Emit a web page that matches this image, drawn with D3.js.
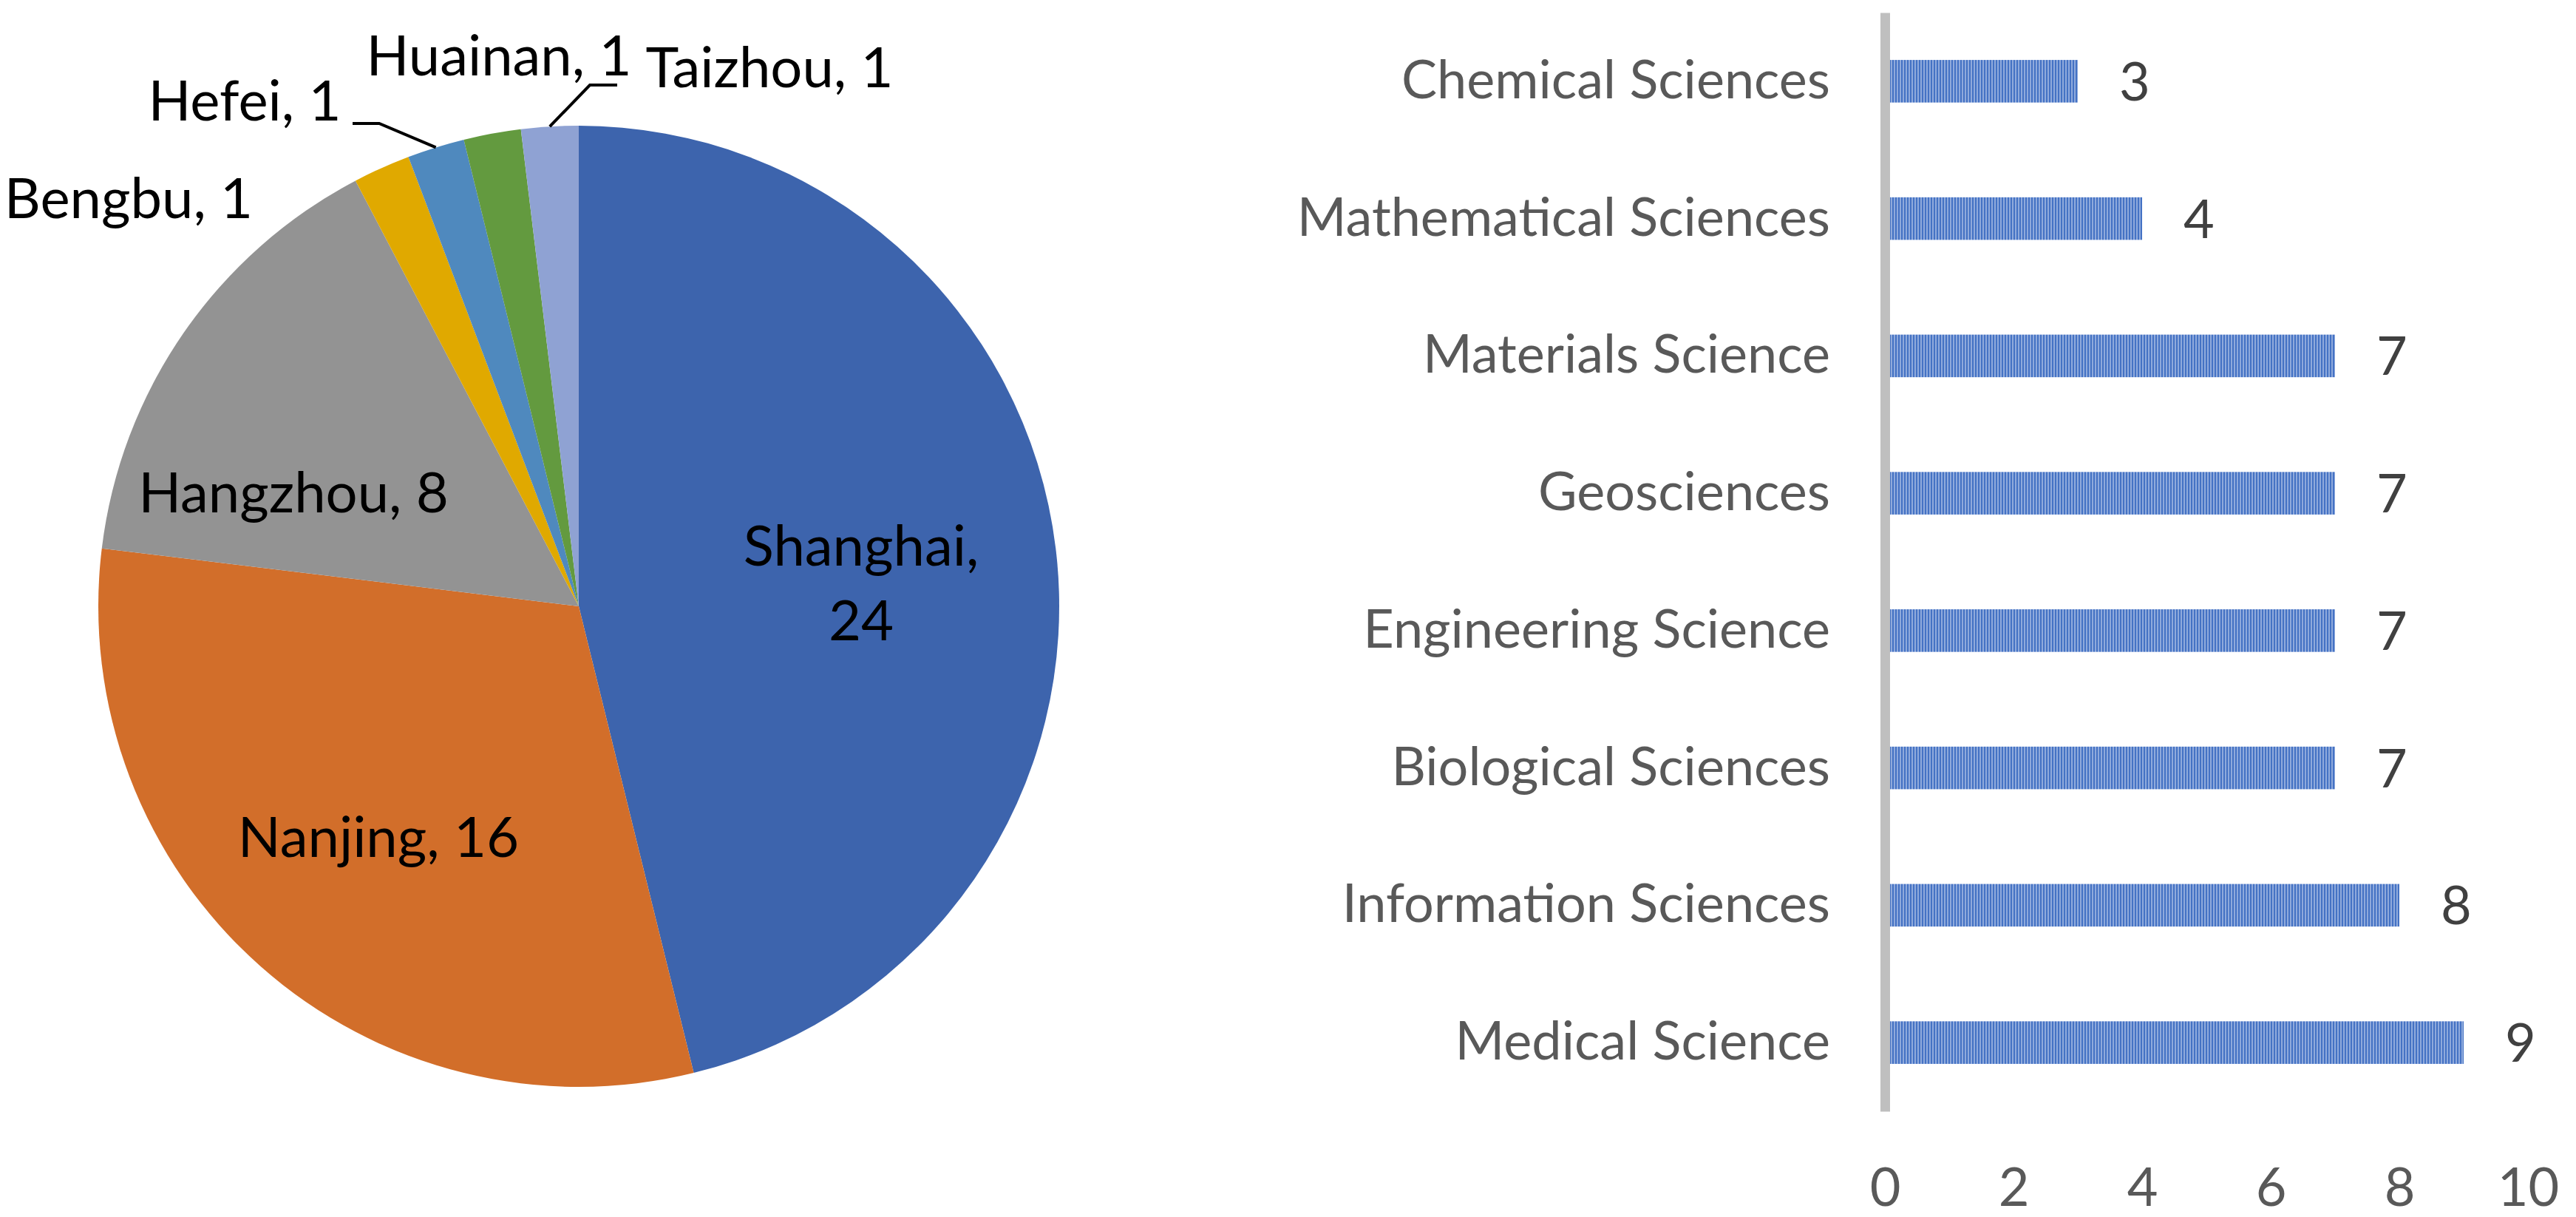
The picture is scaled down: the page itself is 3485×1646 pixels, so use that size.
<!DOCTYPE html>
<html>
<head>
<meta charset="utf-8">
<script src="https://cdn.jsdelivr.net/npm/d3@7"></script>
<style>
  body { margin: 0; background: #fff; }
  svg { display: block; font-family: Lato, "Open Sans", sans-serif; }
  .pie-label { fill: #000; font-size: 76px; }
  .leader { fill: none; stroke: #000; stroke-width: 4; }
  .axis--y .domain { stroke: #bfbfbf; stroke-width: 13; }
  .axis--y text { fill: #595959; font-size: 72px; }
  .axis--x text { fill: #595959; font-size: 72px; }
  .bar-value { fill: #404040; font-size: 72px; }
</style>
</head>
<body>
<svg id="chart" width="3485" height="1646"></svg>
<script>
var cities = ["Shanghai", "Nanjing", "Hangzhou", "Bengbu", "Hefei", "Huainan", "Taizhou"]
var cityCounts = [24, 16, 8, 1, 1, 1, 1]
var cityColors = ["#3d64ad", "#d26e2a", "#939393", "#e0a900", "#4f89be", "#639a3f", "#8fa2d3"]

var fields = ["Chemical Sciences", "Mathematical Sciences", "Materials Science", "Geosciences",
  "Engineering Science", "Biological Sciences", "Information Sciences", "Medical Science"]
var fieldCounts = [3, 4, 7, 7, 7, 7, 8, 9]
var countTicks = [0, 2, 4, 6, 8, 10]

// label placement, relative to the pie centre (Excel moved these by hand)
var pieLabelLayout = {
  Shanghai: { x: 382, y: [-55, 46] },
  Nanjing: { x: -271, y: [339] },
  Hangzhou: { x: -386, y: [-127] },
  Bengbu: { x: -609, y: [-525] },
  Hefei: { x: -452, y: [-657], leader: [[-270, -653], [-306, -653]] },
  Huainan: { x: -108, y: [-718] },
  Taizhou: { x: 258, y: [-702], leader: [[15, -705], [52, -705]] }
}

var svg = d3.select("#chart")

function drawPie() {
  var cx = 783, cy = 820, radius = 650
  var g = svg.append("g").attr("transform", "translate(" + cx + "," + cy + ")")

  var rows = cities.map(function (c, i) { return { name: c, value: cityCounts[i], color: cityColors[i] } })
  var arcs = d3.pie().sort(null).value(function (d) { return d.value })(rows)
  var arc = d3.arc().innerRadius(0).outerRadius(radius)

  g.selectAll(".slice").data(arcs)
    .enter().append("path")
    .attr("class", "slice")
    .attr("d", arc)
    .attr("fill", function (d) { return d.data.color })

  // leader lines start on the rim at the middle of the slice
  arcs.forEach(function (d) {
    var lay = pieLabelLayout[d.data.name]
    if (!lay.leader) return
    var mid = (d.startAngle + d.endAngle) / 2
    var pts = [[radius * Math.sin(mid), -radius * Math.cos(mid)]].concat(lay.leader)
    g.append("path").attr("class", "leader").attr("d", d3.line()(pts))
  })

  arcs.forEach(function (d) {
    var lay = pieLabelLayout[d.data.name]
    var lines = lay.y.length > 1 ? [d.data.name + ",", String(d.data.value)] : [d.data.name + ", " + d.data.value]
    lines.forEach(function (t, k) {
      g.append("text").attr("class", "pie-label")
        .attr("x", lay.x).attr("y", lay.y[k])
        .attr("text-anchor", "middle")
        .text(t)
    })
  })
}

function drawBars() {
  var x = d3.scaleLinear().domain([0, 10]).range([2550, 3420])
  var y = d3.scaleBand().domain(fields).range([17, 1503]).paddingInner(0.69).paddingOuter(0.345)

  var defs = svg.append("defs")
  var pat = defs.append("pattern").attr("id", "ltVert")
    .attr("patternUnits", "userSpaceOnUse").attr("width", 4).attr("height", 4)
  pat.append("rect").attr("width", 4).attr("height", 4).attr("fill", "#8faadc")
  pat.append("rect").attr("width", 2).attr("height", 4).attr("fill", "#4472c4")

  var rows = fields.map(function (f, i) { return { name: f, value: fieldCounts[i] } })

  svg.selectAll(".bar").data(rows)
    .enter().append("rect")
    .attr("class", "bar")
    .attr("x", x(0))
    .attr("y", function (d) { return y(d.name) })
    .attr("width", function (d) { return x(d.value) - x(0) })
    .attr("height", y.bandwidth())
    .attr("fill", "url(#ltVert)")

  svg.append("g").attr("class", "axis axis--y")
    .attr("transform", "translate(" + x(0) + ",0)")
    .call(d3.axisLeft(y).tickSize(0).tickSizeOuter(0).tickPadding(74))
  svg.selectAll(".axis--y text").attr("font-family", null)

  var xAxis = svg.append("g").attr("class", "axis axis--x")
    .attr("transform", "translate(0," + y.range()[1] + ")")
    .call(d3.axisBottom(x).tickValues(countTicks).tickSize(0).tickPadding(77))
  xAxis.select(".domain").remove()

  svg.selectAll(".axis text").attr("font-size", null).attr("font-family", null)
  svg.selectAll(".axis").attr("font-size", null).attr("font-family", null)

  svg.selectAll(".bar-value").data(rows)
    .enter().append("text")
    .attr("class", "bar-value")
    .attr("x", function (d) { return x(d.value) + 56 })
    .attr("y", function (d) { return y(d.name) + y.bandwidth() / 2 })
    .attr("dy", "0.36em")
    .text(function (d) { return d.value })
}

drawPie()
drawBars()
</script>
</body>
</html>
